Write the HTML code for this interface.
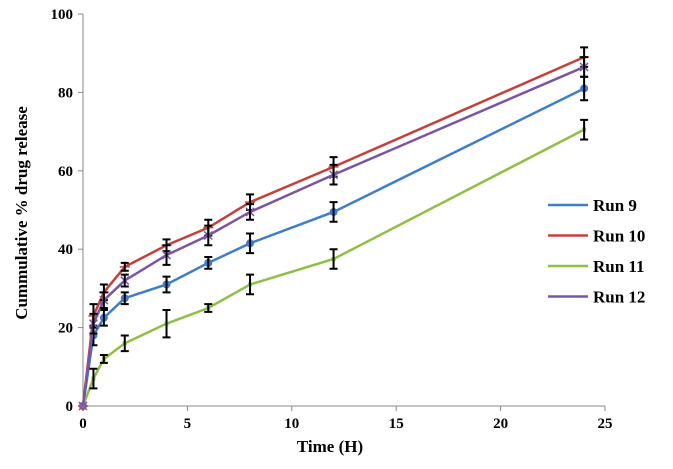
<!DOCTYPE html>
<html><head><meta charset="utf-8"><style>
body{margin:0;background:#fff;}
svg text{font-family:"Liberation Serif",serif;font-weight:bold;}
</style></head><body>
<svg id="c" width="673" height="464"></svg>
<script>
const times=[0,0.5,1,2,4,6,8,12,24];
const run9=[0,18,22.5,27.5,31,36.5,41.5,49.5,81];
const run10=[0,23,29,35.5,41,45.5,52,61,89];
const run11=[0,7,12,16,21,25,31,37.5,70.5];
const run12=[0,21,27,32,38.5,43.5,49.5,59,86.5];
const err9=[0,2.5,2,1.5,2,1.5,2.5,2.5,3];
const err10=[0,3,2,1,1.5,2,2,2.5,2.5];
const err11=[0,2.5,1,2,3.5,1,2.5,2.5,2.5];
const err12=[0,2.5,2,1.5,2.5,2.5,2,2.5,2.5];
const xTicks=[0,5,10,15,20,25];
const yTicks=[0,20,40,60,80,100];
const names=["Run 9","Run 10","Run 11","Run 12"];
const colors=["#3f7ec8","#c4403b","#8fbf45","#7b55a3"];
const S="http://www.w3.org/2000/svg",svg=document.getElementById('c');
const X=v=>83+v*20.88, Y=v=>406-v*3.92;
function el(t,a,p){const e=document.createElementNS(S,t);for(const k in a)e.setAttribute(k,a[k]);(p||svg).appendChild(e);return e;}
let ax=el('line',{x1:83,y1:Y(100),x2:83,y2:406,stroke:'#888','stroke-width':1});

ax=el('line',{x1:83,y1:406,x2:X(25),y2:406,stroke:'#888','stroke-width':1});

yTicks.forEach(v=>{el('line',{x1:78,x2:83,y1:Y(v),y2:Y(v),stroke:'#888'});
 const t=el('text',{x:73,y:Y(v)+5,'text-anchor':'end','font-size':15});t.textContent=v;
 });
xTicks.forEach(v=>{el('line',{x1:X(v),x2:X(v),y1:406,y2:411,stroke:'#888'});
 const t=el('text',{x:X(v),y:428,'text-anchor':'middle','font-size':15});t.textContent=v;
 });
let t=el('text',{x:330,y:452,'text-anchor':'middle','font-size':17});t.textContent='Time (H)';

t=el('text',{x:0,y:0,'text-anchor':'middle','font-size':17,transform:'translate(27,213) rotate(-90)'});t.textContent='Cummulative % drug release';

const series=[run9,run10,run11,run12],errs=[err9,err10,err11,err12];
series.forEach((s,i)=>{
 const g=el('g',{});
 el('polyline',{points:s.map((v,j)=>X(times[j])+','+Y(v)).join(' '),fill:'none',stroke:colors[i],'stroke-width':2.5},g);
 s.forEach((v,j)=>{
  if(i==0)el('circle',{cx:X(times[j]),cy:Y(v),r:4,fill:colors[i]},g);
  else if(i==1){el('path',{d:`M${X(times[j])-5},${Y(v)}h10M${X(times[j])},${Y(v)-5}v10`,stroke:colors[i],'stroke-width':1.5},g);}
  else if(i==2)el('rect',{x:X(times[j])-2,y:Y(v)-2,width:4,height:4,fill:colors[i]},g);
  else el('path',{d:`M${X(times[j])-4},${Y(v)-4}l8,8M${X(times[j])+4},${Y(v)-4}l-8,8`,stroke:colors[i],'stroke-width':1.5},g);
  const e=errs[i][j];if(e>0){const x=X(times[j]);
   el('path',{d:`M${x},${Y(v+e)}V${Y(v-e)}M${x-4},${Y(v+e)}h8M${x-4},${Y(v-e)}h8`,stroke:'#000','stroke-width':2},g);}
 });
 const ly=205+i*30.5;
 const lg=el('g',{});
 el('line',{x1:548,x2:588,y1:ly,y2:ly,stroke:colors[i],'stroke-width':2.5},lg);
 const lt=el('text',{x:593,y:ly+6,'font-size':17},lg);lt.textContent=names[i];
});
</script>
</body></html>
